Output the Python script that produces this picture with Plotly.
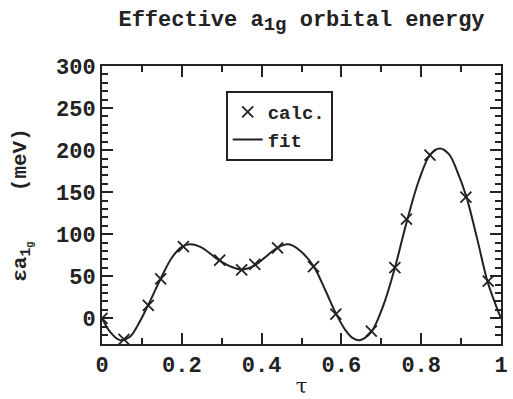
import plotly.graph_objects as go

# calculated points
calc_tau = [0.0, 0.055, 0.116, 0.147, 0.204, 0.295, 0.350, 0.383, 0.440,
            0.530, 0.586, 0.675, 0.734, 0.763, 0.822, 0.912, 0.968]
calc_val = [0.0, -25.0, 15.4, 46.9, 85.3, 69.1, 57.6, 64.2, 83.8,
            61.5, 5.0, -15.3, 60.3, 118.0, 194.0, 144.0, 44.2]

# fit curve
fit_tau = [0.0, 0.02, 0.045, 0.07, 0.09, 0.115, 0.147, 0.175, 0.2, 0.221,
           0.25, 0.29, 0.32, 0.35, 0.383, 0.415, 0.44, 0.467, 0.495, 0.53,
           0.56, 0.586, 0.61, 0.63, 0.645, 0.66, 0.677, 0.705, 0.734, 0.765,
           0.795, 0.823, 0.847, 0.87, 0.89, 0.913, 0.94, 0.966, 0.985, 1.0]
fit_val = [0.0, -16, -26, -22, -8, 15, 47, 72, 85, 88,
           84, 70, 62, 58, 63, 75, 84, 88, 81, 62,
           33, 6, -14, -24, -26, -23, -15, 15, 60, 117,
           165, 195, 202, 195, 175, 145, 95, 44, 18, 0]

x_ticks = [0, 0.2, 0.4, 0.6, 0.8, 1]
x_labels = ["0", "0.2", "0.4", "0.6", "0.8", "1"]
y_ticks = [0, 50, 100, 150, 200, 250, 300]

INK = "#222222"
FONT = "Liberation Mono"
NB = "\u00a0"

fig = go.Figure()
fig.add_trace(go.Scatter(
    x=calc_tau, y=calc_val, mode="markers", name="calc.",
    marker=dict(symbol="x-thin", size=11, color=INK,
                line=dict(width=1.8, color=INK)),
))
fig.add_trace(go.Scatter(
    x=fit_tau, y=fit_val, mode="lines", name="fit",
    line=dict(color=INK, width=2, shape="spline", smoothing=1.0),
))

axis_common = dict(
    showline=True, linewidth=2, linecolor=INK, mirror="allticks",
    ticks="inside", ticklen=11, tickwidth=2, tickcolor=INK,
    showgrid=False, zeroline=False,
    tickfont=dict(family=FONT, size=22, color=INK, weight="bold"),
)

fig.update_xaxes(
    range=[0, 1], tickvals=x_ticks, ticktext=x_labels,
    minor=dict(dtick=0.1, ticks="inside", ticklen=6, tickwidth=1.5, tickcolor=INK),
    title=dict(text="τ", font=dict(family="DejaVu Serif", size=21, color=INK), standoff=0),
    **axis_common,
)
fig.update_yaxes(
    range=[-30.6, 300], tickvals=y_ticks,
    minor=dict(dtick=10, ticks="inside", ticklen=6, tickwidth=1.5, tickcolor=INK),
    title=dict(text="εa<sub>1<sub>g</sub></sub>" + NB * 4 + "(meV)",
               font=dict(family=FONT, size=21, color=INK, weight="bold"), standoff=24),
    **axis_common,
)

fig.update_layout(
    width=513, height=399,
    margin=dict(l=102, r=5, t=66, b=44),
    paper_bgcolor="white", plot_bgcolor="white",
    title=dict(text="Effective a<sub><span style='font-size:19px'>1g</span></sub> orbital energy",
               x=0.5, xref="paper", y=0.955, yanchor="middle",
               font=dict(family=FONT, size=22, color=INK, weight="bold")),
    legend=dict(x=0.31, y=0.91, xanchor="left", yanchor="top",
                bgcolor="white", bordercolor=INK, borderwidth=2,
                font=dict(family=FONT, size=19, color=INK, weight="bold"),
                itemwidth=30, tracegroupgap=0),
    showlegend=True,
)

fig.write_html("out.html")
